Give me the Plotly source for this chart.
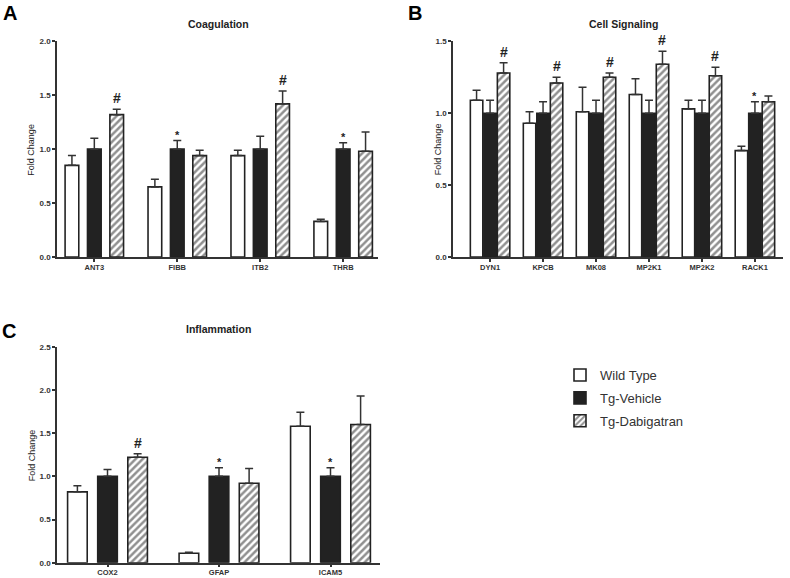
import plotly.graph_objects as go

W, H = 790, 578
FONT = "Arial, Liberation Sans, sans-serif"
DARK = "#222222"
GREY = "#333333"

series_names = ["Wild Type", "Tg-Vehicle", "Tg-Dabigatran"]

# Panel A: Coagulation
coag_genes = ["ANT3", "FIBB", "ITB2", "THRB"]
coag_wt = [0.85, 0.65, 0.94, 0.33]
coag_wt_err = [0.09, 0.07, 0.05, 0.02]
coag_veh = [1.00, 1.00, 1.00, 1.00]
coag_veh_err = [0.10, 0.08, 0.12, 0.06]
coag_dab = [1.32, 0.94, 1.42, 0.98]
coag_dab_err = [0.05, 0.05, 0.12, 0.18]
coag_veh_sig = ["", "*", "", "*"]
coag_dab_sig = ["#", "", "#", ""]

# Panel B: Cell Signaling
sig_genes = ["DYN1", "KPCB", "MK08", "MP2K1", "MP2K2", "RACK1"]
sig_wt = [1.09, 0.93, 1.01, 1.13, 1.03, 0.74]
sig_wt_err = [0.07, 0.08, 0.17, 0.11, 0.06, 0.03]
sig_veh = [1.00, 1.00, 1.00, 1.00, 1.00, 1.00]
sig_veh_err = [0.09, 0.08, 0.09, 0.09, 0.09, 0.08]
sig_dab = [1.28, 1.21, 1.25, 1.34, 1.26, 1.08]
sig_dab_err = [0.07, 0.04, 0.03, 0.09, 0.06, 0.04]
sig_veh_sig = ["", "", "", "", "", "*"]
sig_dab_sig = ["#", "#", "#", "#", "#", ""]

# Panel C: Inflammation
inf_genes = ["COX2", "GFAP", "ICAM5"]
inf_wt = [0.82, 0.11, 1.58]
inf_wt_err = [0.07, 0.01, 0.16]
inf_veh = [1.00, 1.00, 1.00]
inf_veh_err = [0.08, 0.10, 0.10]
inf_dab = [1.22, 0.92, 1.60]
inf_dab_err = [0.04, 0.17, 0.33]
inf_veh_sig = ["", "*", "*"]
inf_dab_sig = ["#", "", ""]


def px(x):
    return x / W


def py(y):
    return 1 - y / H


panels = [
    dict(genes=coag_genes, vals=[coag_wt, coag_veh, coag_dab],
         errs=[coag_wt_err, coag_veh_err, coag_dab_err],
         sigs=[None, coag_veh_sig, coag_dab_sig],
         title="Coagulation", letter="A", ymax=2.0,
         box=(57, 378, 41.3, 257), d=0.27, w=0.165, xr=[-0.45, 3.42],
         title_xy=(219, 24), letter_xy=(10, 13), ytitle_x=31.5),
    dict(genes=sig_genes, vals=[sig_wt, sig_veh, sig_dab],
         errs=[sig_wt_err, sig_veh_err, sig_dab_err],
         sigs=[None, sig_veh_sig, sig_dab_sig],
         title="Cell Signaling", letter="B", ymax=1.5,
         box=(453, 783, 41.3, 257), d=0.255, w=0.235, xr=[-0.70, 5.53],
         title_xy=(623, 24), letter_xy=(415, 13), ytitle_x=438),
    dict(genes=inf_genes, vals=[inf_wt, inf_veh, inf_dab],
         errs=[inf_wt_err, inf_veh_err, inf_dab_err],
         sigs=[None, inf_veh_sig, inf_dab_sig],
         title="Inflammation", letter="C", ymax=2.5,
         box=(57, 380, 346.7, 562.7), d=0.27, w=0.176, xr=[-0.453, 2.444],
         title_xy=(218, 329), letter_xy=(9, 331), ytitle_x=31.5),
]

fills = ["#ffffff", DARK, "#ffffff"]

fig = go.Figure()
annotations = []
layout_axes = {}

for p_i, p in enumerate(panels):
    sfx = "" if p_i == 0 else str(p_i + 1)
    xa, ya = "x" + sfx, "y" + sfx
    n = len(p["genes"])
    idx = list(range(n))
    for k in range(3):
        marker = dict(color=fills[k], line=dict(color=DARK, width=1.6))
        if k == 2:
            marker["pattern"] = dict(shape="/", fgcolor=DARK, bgcolor="#ffffff",
                                     size=5, solidity=0.5, fillmode="overlay")
        fig.add_trace(go.Bar(
            x=idx, y=p["vals"][k], name=series_names[k],
            width=p["w"], offset=(k - 1) * p["d"] - p["w"] / 2,
            marker=marker,
            error_y=dict(type="data", array=p["errs"][k], arrayminus=[0] * n,
                         symmetric=False, color=GREY, thickness=1.5, width=4),
            xaxis=xa, yaxis=ya,
            showlegend=(p_i == 0), legendgroup=series_names[k],
        ))
        sig = p["sigs"][k]
        if sig:
            for i, s in enumerate(sig):
                if not s:
                    continue
                top = p["vals"][k][i] + p["errs"][k][i]
                annotations.append(dict(
                    x=i + (k - 1) * p["d"], y=top, xref=xa, yref=ya,
                    text="<b>%s</b>" % s, showarrow=False,
                    xanchor="center", yanchor="bottom",
                    yshift=(1 if s == "#" else -2),
                    font=dict(size=(14 if s == "#" else 11), color=DARK, family=FONT)))
    x0, x1, y0, y1 = p["box"]
    layout_axes["xaxis" + sfx] = dict(
        domain=[px(x0), px(x1)], range=p["xr"], anchor=ya, automargin=False,
        tickmode="array", tickvals=idx, ticktext=["<b>%s</b>" % g for g in p["genes"]],
        showline=True, linecolor=GREY, linewidth=1.5, ticks="outside",
        ticklen=3, tickwidth=1.5, tickcolor=GREY, showgrid=False, zeroline=False,
        ticklabelstandoff=-1,
        tickfont=dict(size=7.5, color=GREY, family=FONT), fixedrange=True)
    layout_axes["yaxis" + sfx] = dict(
        domain=[py(y1), py(y0)], range=[0, p["ymax"]], anchor=xa, automargin=False,
        dtick=0.5, tick0=0, tickformat=".1f",
        showline=True, linecolor=GREY, linewidth=1.5, ticks="outside",
        ticklen=3, tickwidth=1.5, tickcolor=GREY, showgrid=False, zeroline=False,
        tickfont=dict(size=8, color=GREY, family=FONT, weight="bold"), fixedrange=True)
    annotations.append(dict(x=px(p["title_xy"][0]), y=py(p["title_xy"][1]),
                            xref="paper", yref="paper", showarrow=False,
                            xanchor="center", yanchor="middle",
                            text="<b>%s</b>" % p["title"],
                            font=dict(size=10.5, color=DARK, family=FONT)))
    annotations.append(dict(x=px(p["letter_xy"][0]), y=py(p["letter_xy"][1]),
                            xref="paper", yref="paper", showarrow=False,
                            xanchor="center", yanchor="middle",
                            text="<b>%s</b>" % p["letter"],
                            font=dict(size=20, color="#000000", family=FONT)))
    annotations.append(dict(x=px(p["ytitle_x"]), y=py((y0 + y1) / 2),
                            xref="paper", yref="paper", showarrow=False,
                            xanchor="center", yanchor="middle",
                            text="Fold Change", textangle=-90,
                            font=dict(size=9, color=DARK, family=FONT)))

fig.update_layout(
    template="none",
    width=W, height=H, margin=dict(l=0, r=0, t=0, b=0, pad=0, autoexpand=False),
    plot_bgcolor="white", paper_bgcolor="white",
    barmode="overlay", annotations=annotations,
    legend=dict(x=px(560), y=py(360), xanchor="left", yanchor="top",
                font=dict(size=13, color=GREY, family=FONT),
                tracegroupgap=3, bgcolor="rgba(0,0,0,0)", borderwidth=0),
    **layout_axes,
)

fig.write_html("out.html", config={"displayModeBar": False},
               post_script="document.body.style.margin='0';document.body.style.padding='0';")
